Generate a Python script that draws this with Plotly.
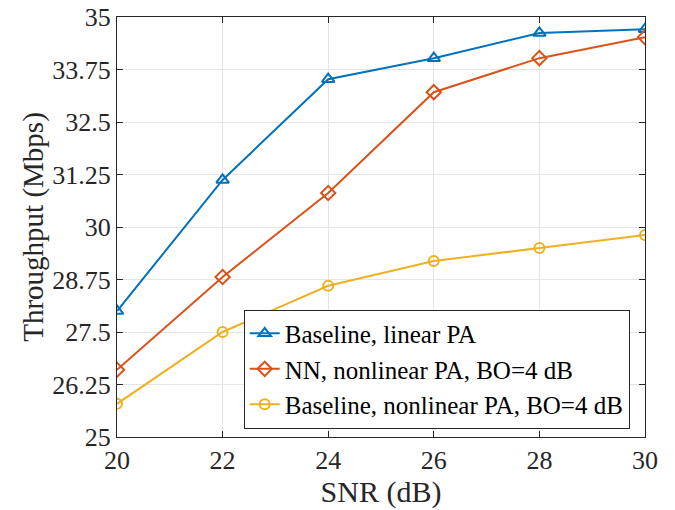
import plotly.graph_objects as go

snr = [20, 22, 24, 26, 28, 30]
base_linear = [28.0, 31.12, 33.52, 34.02, 34.62, 34.71]
nn_nonlinear = [26.6, 28.81, 30.81, 33.21, 34.02, 34.52]
base_nonlinear = [25.79, 27.5, 28.6, 29.19, 29.5, 29.81]
ytick_vals = [25, 26.25, 27.5, 28.75, 30, 31.25, 32.5, 33.75, 35]
ytick_text = ["25", "26.25", "27.5", "28.75", "30", "31.25", "32.5", "33.75", "35"]

FONT = "Liberation Serif, Times New Roman, DejaVu Serif, serif"

fig = go.Figure()
fig.add_trace(go.Scatter(x=snr, y=base_linear, mode="lines+markers",
                         name="Baseline, linear PA",
                         line=dict(color="#0072BD", width=2),
                         marker=dict(symbol="triangle-up-open", size=11, color="#0072BD", line=dict(width=2))))
fig.add_trace(go.Scatter(x=snr, y=nn_nonlinear, mode="lines+markers",
                         name="NN, nonlinear PA, BO=4 dB",
                         line=dict(color="#D95319", width=2),
                         marker=dict(symbol="diamond-open", size=11, color="#D95319", line=dict(width=2))))
fig.add_trace(go.Scatter(x=snr, y=base_nonlinear, mode="lines+markers",
                         name="Baseline, nonlinear PA, BO=4 dB",
                         line=dict(color="#EDB120", width=2),
                         marker=dict(symbol="circle-open", size=10, color="#EDB120", line=dict(width=2))))

axis_common = dict(showline=True, linecolor="#262626", linewidth=1, mirror="ticks",
                   ticks="inside", ticklen=6, tickcolor="#262626",
                   showgrid=True, gridcolor="#e5e5e5", gridwidth=1, zeroline=False,
                   automargin=False,
                   tickfont=dict(family=FONT, size=26, color="#262626"))

fig.update_layout(
    width=675, height=510,
    margin=dict(l=117, r=30, t=17, b=73),
    paper_bgcolor="white", plot_bgcolor="white",
    font=dict(family=FONT, color="#262626"),
    xaxis=dict(range=[20, 30], tickvals=snr,
               title=dict(text="SNR (dB)", font=dict(family=FONT, size=30), standoff=2),
               **axis_common),
    yaxis=dict(range=[25, 35], tickvals=ytick_vals, ticktext=ytick_text,
               title=dict(text="Throughput (Mbps)", font=dict(family=FONT, size=29), standoff=0),
               **axis_common),
    legend=dict(x=0.24, y=0.02, xanchor="left", yanchor="bottom",
                bgcolor="white", bordercolor="#262626", borderwidth=1,
                font=dict(family=FONT, size=25, color="black"),
                tracegroupgap=0, itemwidth=30),
    showlegend=True,
)

fig.write_html("out.html", config={"displayModeBar": False},
               post_script="document.body.style.margin='0';")
